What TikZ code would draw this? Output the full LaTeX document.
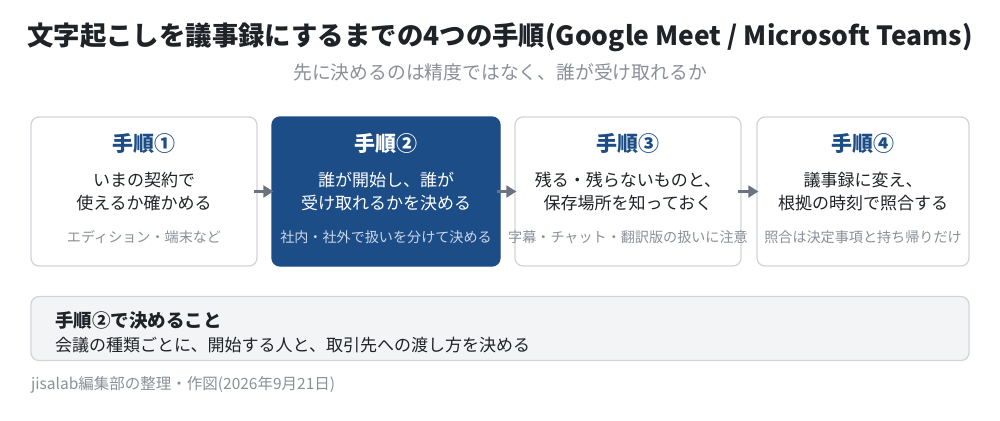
\documentclass[tikz,border=0pt]{standalone}
\usepackage{fontspec}
\setmainfont{Noto Sans CJK JP}
\usepackage{tikz}
\usetikzlibrary{arrows.meta,positioning}
\definecolor{navy}{HTML}{1D4D87}
\definecolor{rim}{HTML}{D1D5DB}
\definecolor{ink}{HTML}{1F2328}
\definecolor{mute}{HTML}{8A8F98}
\definecolor{pale}{HTML}{F3F4F6}
\definecolor{arrowgray}{HTML}{6B7280}
\definecolor{notelight}{HTML}{C9D6EA}

\begin{document}
\begin{tikzpicture}[x=1pt,y=-1pt]
\tikzstyle{card}=[draw=rim,line width=1.3pt,fill=white,rounded corners=8pt,inner sep=0pt]
\tikzstyle{hot}=[card,draw=navy,fill=navy]
\tikzstyle{head}=[font=\fontsize{21}{24}\selectfont\bfseries,text=navy]
\tikzstyle{body}=[font=\fontsize{17}{23}\selectfont,text=ink,align=center]
\tikzstyle{note}=[font=\fontsize{14.1}{16}\selectfont,text=mute]
\tikzstyle{link}=[-{Triangle[length=10pt,width=12pt]},line width=2.2pt,draw=arrowgray,fill=arrowgray,shorten <=-4pt,shorten >=-2pt]

\useasboundingbox (0,0) rectangle (1000,420);

\node (title) at (500,37) [font=\fontsize{26.4}{30}\selectfont\bfseries,text=ink] {文字起こしを議事録にするまでの4つの手順(Google Meet / Microsoft Teams)};
\node (sub) at (500,72) [font=\fontsize{18.8}{22}\selectfont,text=mute] {先に決めるのは精度ではなく、誰が受け取れるか};

\node [card] (s1) at(144,191.5)[minimum width=226pt,minimum height=149pt] {};
\node [hot] (s2) at(386,191.5)[minimum width=228pt,minimum height=149pt] {};
\node [card] (s3) at(628,191.5)[minimum width=226pt,minimum height=149pt] {};
\node [card] (s4) at(863,191.5)[minimum width=212pt,minimum height=149pt] {};

\node [head] (h1) at(144,143) {手順①};
\node [head,text=white] (h2) at(386,143) {手順②};
\node [head] (h3) at(628,143) {手順③};
\node [head] (h4) at(863,143) {手順④};

\node [body] (t1) at(144,191.5) {いまの契約で\\使えるか確かめる};
\node [body,text=white] (t2) at(386,191.5) {誰が開始し、誰が\\受け取れるかを決める};
\node [body] (t3) at(628,191.5) {残る・残らないものと、\\保存場所を知っておく};
\node [body] (t4) at(863,191.5) {議事録に変え、\\根拠の時刻で照合する};

\node [note] (n1) at(144,237) {エディション・端末など};
\node [note,text=notelight] (n2) at(386,237) {社内・社外で扱いを分けて決める};
\node [note] (n3) at(628,237) {字幕・チャット・翻訳版の扱いに注意};
\node [note] (n4) at(863,237) {照合は決定事項と持ち帰りだけ};

\draw [link] (s1) -- (s2);
\draw [link] (s2) -- (s3);
\draw [link] (s3) -- (s4);

\node [card,fill=pale] (memo) at(500,328.5)[minimum width=938pt,minimum height=64pt] {};
\node (mh) at(55,320)[anchor=west,inner sep=0pt,font=\fontsize{18.5}{21}\selectfont\bfseries,text=ink] {手順②で決めること};
\node (mt) at(55,345)[anchor=west,inner sep=0pt,font=\fontsize{17}{20}\selectfont,text=ink] {会議の種類ごとに、開始する人と、取引先への渡し方を決める};

\node (foot) at(31,385)[anchor=west,inner sep=0pt,font=\fontsize{15.5}{18}\selectfont,text=mute] {jisalab編集部の整理・作図(2026年9月21日)};
\end{tikzpicture}
\end{document}
